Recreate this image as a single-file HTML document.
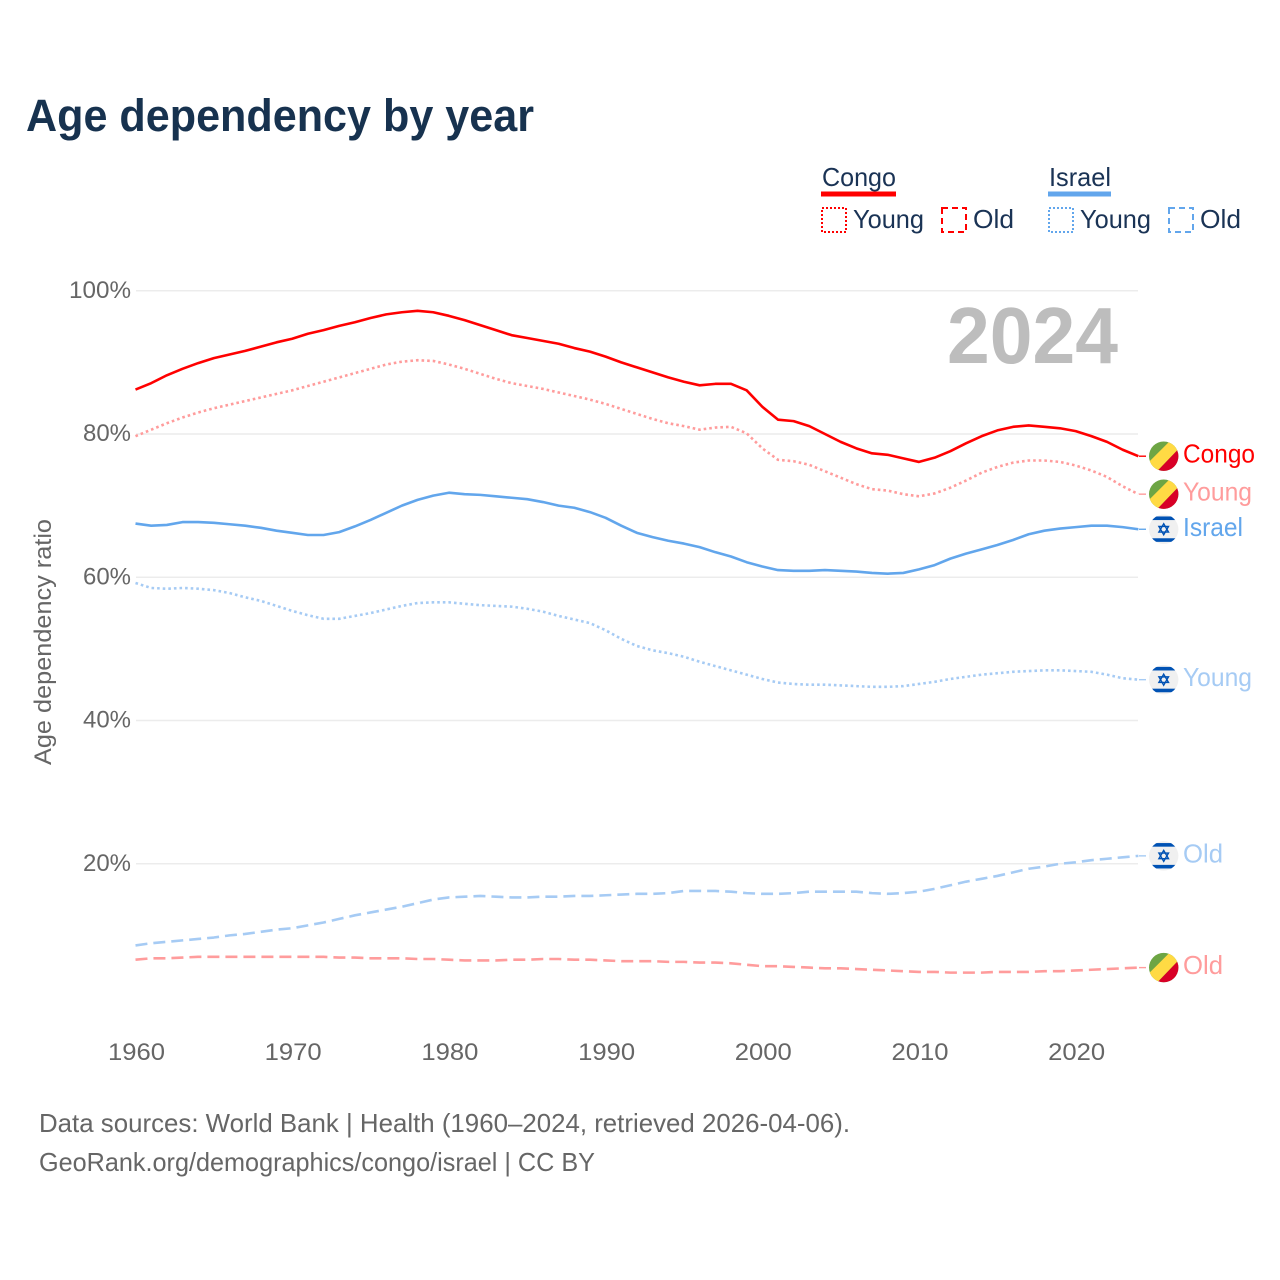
<!DOCTYPE html>
<html lang="en">
<head>
<meta charset="utf-8">
<title>Age dependency by year</title>
<style>
html,body{margin:0;padding:0;background:#fff;}
svg{display:block;font-family:"Liberation Sans",sans-serif;}
</style>
</head>
<body>
<svg id="chart" xmlns="http://www.w3.org/2000/svg" width="1280" height="1280" viewBox="0 0 1280 1280">
  <defs>
    <clipPath id="flag-clip"><circle cx="0" cy="0" r="14.7"/></clipPath>
    <g id="flag-congo" clip-path="url(#flag-clip)">
      <rect x="-16" y="-16" width="32" height="32" fill="#6da544"/>
      <polygon points="-16,16 -16,7 7,-16 16,-16 16,-8.5 -7.5,16" fill="#ffda44"/>
      <polygon points="16,-8.5 16,16 -7.5,16" fill="#d80027"/>
    </g>
    <g id="flag-israel" clip-path="url(#flag-clip)">
      <rect x="-16" y="-16" width="32" height="32" fill="#f0f0f0"/>
      <rect x="-16" y="-12.8" width="32" height="3.6" fill="#0052b4"/>
      <rect x="-16" y="9" width="32" height="3.6" fill="#0052b4"/>
      <polygon points="0,-5.5 4.8,2.8 -4.8,2.8" fill="none" stroke="#0052b4" stroke-width="1.4"/>
      <polygon points="0,5.5 4.8,-2.8 -4.8,-2.8" fill="none" stroke="#0052b4" stroke-width="1.4"/>
    </g>
  </defs>

  <text x="26" y="131" font-size="45" font-weight="700" fill="#17324f" textLength="508" lengthAdjust="spacingAndGlyphs">Age dependency by year</text>

  <g font-size="26" fill="#1a3355">
    <text x="822" y="186" textLength="74" lengthAdjust="spacingAndGlyphs">Congo</text>
    <rect x="821" y="191.5" width="75" height="5" fill="#ff0000"/>
    <rect x="822" y="208" width="24" height="24" fill="none" stroke="#ff0000" stroke-width="2" stroke-dasharray="2 2"/>
    <text x="853" y="228" textLength="71" lengthAdjust="spacingAndGlyphs">Young</text>
    <rect x="942" y="208" width="24" height="24" fill="none" stroke="#ff0000" stroke-width="2" stroke-dasharray="6 4"/>
    <text x="973" y="228" textLength="41" lengthAdjust="spacingAndGlyphs">Old</text>
    <text x="1049" y="186" textLength="62" lengthAdjust="spacingAndGlyphs">Israel</text>
    <rect x="1048" y="191.5" width="63" height="5" fill="#62a6ec"/>
    <rect x="1049" y="208" width="24" height="24" fill="none" stroke="#62a6ec" stroke-width="2" stroke-dasharray="2 2"/>
    <text x="1080" y="228" textLength="71" lengthAdjust="spacingAndGlyphs">Young</text>
    <rect x="1169" y="208" width="24" height="24" fill="none" stroke="#62a6ec" stroke-width="2" stroke-dasharray="6 4"/>
    <text x="1200" y="228" textLength="41" lengthAdjust="spacingAndGlyphs">Old</text>
  </g>

  <g id="grid"></g>
  <g id="y-ticks"></g>
  <g id="x-ticks"></g>

  <text transform="translate(51,642) rotate(-90)" text-anchor="middle" font-size="24" fill="#666" textLength="246" lengthAdjust="spacingAndGlyphs">Age dependency ratio</text>

  <text x="947" y="363" font-size="80" font-weight="700" fill="#bdbdbd" textLength="171" lengthAdjust="spacingAndGlyphs">2024</text>

  <g id="series"></g>
  <g id="end-labels"></g>

  <text x="39" y="1132" font-size="26" fill="#666" textLength="811" lengthAdjust="spacingAndGlyphs">Data sources: World Bank | Health (1960–2024, retrieved 2026-04-06).</text>
  <text x="39" y="1171" font-size="26" fill="#666" textLength="556" lengthAdjust="spacingAndGlyphs">GeoRank.org/demographics/congo/israel | CC BY</text>
</svg>

<script>
const startYear = 1960;
const xTickLabels = ["1960","1970","1980","1990","2000","2010","2020"];
const yTickValues = [20,40,60,80,100];

const congoTotal = [86.2,87.1,88.2,89.1,89.9,90.6,91.1,91.6,92.2,92.8,93.3,94.0,94.5,95.1,95.6,96.2,96.7,97.0,97.2,97.0,96.5,95.9,95.2,94.5,93.8,93.4,93.0,92.6,92.0,91.5,90.8,90.0,89.3,88.6,87.9,87.3,86.8,87.0,87.0,86.1,83.8,82.0,81.8,81.1,80.0,78.9,78.0,77.3,77.1,76.6,76.1,76.7,77.6,78.7,79.7,80.5,81.0,81.2,81.0,80.8,80.4,79.7,78.9,77.8,76.9];
const congoYoung = [79.7,80.6,81.5,82.3,83.0,83.6,84.1,84.6,85.1,85.6,86.1,86.7,87.3,87.9,88.5,89.1,89.7,90.1,90.3,90.2,89.7,89.1,88.4,87.7,87.1,86.7,86.3,85.8,85.3,84.8,84.2,83.5,82.8,82.1,81.5,81.1,80.6,80.9,81.0,80.1,78.0,76.4,76.2,75.7,74.8,73.9,73.0,72.3,72.1,71.6,71.3,71.7,72.5,73.5,74.6,75.4,76.0,76.3,76.3,76.1,75.6,74.9,74.0,72.7,71.6];
const congoOld = [6.6,6.8,6.8,6.9,7.0,7.0,7.0,7.0,7.0,7.0,7.0,7.0,7.0,6.9,6.9,6.8,6.8,6.8,6.7,6.7,6.6,6.5,6.5,6.5,6.6,6.6,6.7,6.7,6.6,6.6,6.5,6.4,6.4,6.4,6.3,6.3,6.2,6.2,6.1,5.9,5.7,5.7,5.6,5.5,5.4,5.4,5.3,5.2,5.1,5.0,4.9,4.9,4.8,4.8,4.8,4.9,4.9,4.9,5.0,5.0,5.1,5.2,5.3,5.4,5.5];
const israelTotal = [67.5,67.2,67.3,67.7,67.7,67.6,67.4,67.2,66.9,66.5,66.2,65.9,65.9,66.3,67.1,68.0,69.0,70.0,70.8,71.4,71.8,71.6,71.5,71.3,71.1,70.9,70.5,70.0,69.7,69.1,68.3,67.2,66.2,65.6,65.1,64.7,64.2,63.5,62.9,62.1,61.5,61.0,60.9,60.9,61.0,60.9,60.8,60.6,60.5,60.6,61.1,61.7,62.6,63.3,63.9,64.5,65.2,66.0,66.5,66.8,67.0,67.2,67.2,67.0,66.7];
const israelYoung = [59.2,58.5,58.4,58.5,58.4,58.2,57.8,57.2,56.7,56.0,55.3,54.7,54.2,54.2,54.6,55.0,55.5,56.0,56.4,56.5,56.5,56.3,56.1,56.0,55.9,55.6,55.2,54.6,54.1,53.6,52.6,51.4,50.4,49.8,49.4,48.9,48.2,47.6,47.0,46.4,45.8,45.3,45.1,45.0,45.0,44.9,44.8,44.7,44.7,44.8,45.1,45.4,45.8,46.1,46.4,46.6,46.8,46.9,47.0,47.0,46.9,46.8,46.4,45.9,45.7];
const israelOld = [8.6,8.9,9.1,9.3,9.5,9.7,10.0,10.2,10.5,10.8,11.0,11.4,11.8,12.3,12.8,13.2,13.6,14.0,14.5,15.0,15.3,15.4,15.5,15.4,15.3,15.3,15.4,15.4,15.5,15.5,15.6,15.7,15.8,15.8,15.9,16.2,16.2,16.2,16.1,15.9,15.8,15.8,15.9,16.1,16.1,16.1,16.1,15.9,15.8,15.9,16.1,16.5,17.0,17.5,17.9,18.3,18.8,19.3,19.6,20.0,20.2,20.5,20.7,20.9,21.1];

const NS = "http://www.w3.org/2000/svg";
const x = function (year) { return 135.5 + (year - startYear) * 15.67; };
const y = function (pct) { return 1007 - pct * 7.1625; };

function svgEl(tag, attrs) {
  const el = document.createElementNS(NS, tag);
  for (const k in attrs) el.setAttribute(k, attrs[k]);
  return el;
}

const grid = document.getElementById("grid");
const yTicks = document.getElementById("y-ticks");
yTickValues.forEach(function (v) {
  const line = svgEl("line", {x1: 136, x2: 1138, y1: y(v), y2: y(v), stroke: "#ececec", "stroke-width": 1.4});
  
  
  grid.appendChild(line);
  const label = String(v) + "%";
  const t = svgEl("text", {x: 131, y: y(v) + 7, "text-anchor": "end", "font-size": 24, fill: "#666", textLength: label.length === 4 ? 62 : 48, lengthAdjust: "spacingAndGlyphs"});
  
  
  t.textContent = label;
  yTicks.appendChild(t);
});

const xTicks = document.getElementById("x-ticks");
xTickLabels.forEach(function (label) {
  const t = svgEl("text", {x: x(Number(label)) + 1, y: 1060, "text-anchor": "middle", "font-size": 24, fill: "#666", textLength: 57, lengthAdjust: "spacingAndGlyphs"});
  
  
  t.textContent = label;
  xTicks.appendChild(t);
});

const seriesList = [
  {values: congoOld, name: "congo-old", color: "#ff9c9c", dash: "12 6", flag: "flag-congo", label: "Old", len: 40},
  {values: israelOld, name: "israel-old", color: "#a6cbf4", dash: "12 6", flag: "flag-israel", label: "Old", len: 40},
  {values: israelYoung, name: "israel-young", color: "#a6cbf4", dash: "2.6 3", flag: "flag-israel", label: "Young", len: 69},
  {values: israelTotal, name: "israel-total", color: "#62a6ec", dash: "", flag: "flag-israel", label: "Israel", len: 60},
  {values: congoYoung, name: "congo-young", color: "#ff9c9c", dash: "2.6 3", flag: "flag-congo", label: "Young", len: 69},
  {values: congoTotal, name: "congo-total", color: "#ff0000", dash: "", flag: "flag-congo", label: "Congo", len: 72}
];

const seriesGroup = document.getElementById("series");
const labelGroup = document.getElementById("end-labels");
seriesList.forEach(function (s) {
  const pts = s.values.map(function (v, i) {
    return x(startYear + i).toFixed(2) + "," + y(v).toFixed(2);
  });
  const path = svgEl("path", {d: "M" + pts.join("L"), fill: "none", stroke: s.color, "stroke-width": 2.6, "stroke-linejoin": "round"});
  if (s.dash) path.setAttribute("stroke-dasharray", s.dash);
  
  
  seriesGroup.appendChild(path);

  const last = y(s.values[s.values.length - 1]);
  const stub = svgEl("line", {x1: 1139, x2: 1146, y1: last, y2: last, stroke: s.color, "stroke-width": 1.4});
  
  
  labelGroup.appendChild(stub);

  const flag = svgEl("use", {href: "#" + s.flag, transform: "translate(1163.7," + last + ")"});
  
  
  labelGroup.appendChild(flag);

  const t = svgEl("text", {x: 1183, y: last + 6.5, "font-size": 26, fill: s.color, textLength: s.len, lengthAdjust: "spacingAndGlyphs"});
  
  
  t.textContent = s.label;
  labelGroup.appendChild(t);
});
</script>
</body>
</html>
